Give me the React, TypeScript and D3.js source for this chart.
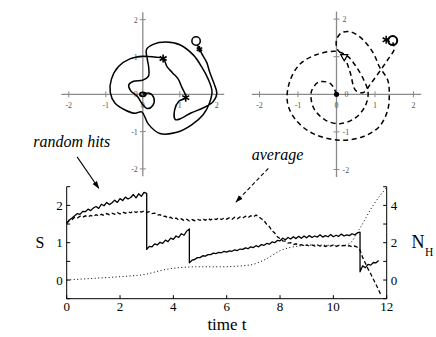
import * as d3 from "d3";

// ---- bottom panel: S(t) for one run of random hits (segments split at the jumps)
const hitsA = [1.52, 1.61, 1.66, 1.72, 1.78, 1.76, 1.84, 1.83, 1.9, 1.86, 1.93, 1.97, 1.92, 2.03, 1.99, 2.08, 2.02, 2.07, 2.14, 2.08, 2.18, 2.13, 2.22, 2.17, 2.21, 2.29, 2.2, 2.31, 2.24, 2.35, 2.32]; // t 0..3
const hitsB = [0.82, 0.9, 0.89, 0.97, 0.94, 1.01, 0.98, 1.07, 1.03, 1.12, 1.09, 1.18, 1.14, 1.24, 1.2, 1.31, 1.37]; // t 3..4.6
const hitsC = [0.46, 0.53, 0.55, 0.6, 0.6, 0.65, 0.64, 0.68, 0.68, 0.72, 0.71, 0.74, 0.73, 0.77, 0.75, 0.78, 0.77, 0.81, 0.79, 0.83, 0.82, 0.86, 0.84, 0.89, 0.87, 0.92, 0.89, 0.95, 0.93, 0.98, 0.96, 1.02, 1.0, 1.06, 1.05, 1.12, 1.08, 1.14, 1.1, 1.16, 1.11, 1.17, 1.12, 1.18, 1.13, 1.19, 1.14, 1.18, 1.15, 1.21, 1.15, 1.19, 1.16, 1.22, 1.16, 1.2, 1.17, 1.23, 1.18, 1.21, 1.19, 1.24, 1.21, 1.26, 1.28]; // t 4.6..11
const hitsD = [0.22, 0.38, 0.33, 0.42, 0.4, 0.47, 0.46, 0.52]; // t 11..11.7
const hitsStarts = [0, 3.0, 4.6, 11.0];

// average S(t), t 0..11.8 step 0.1
const averageS = [1.52, 1.6, 1.62, 1.68, 1.66, 1.71, 1.68, 1.72, 1.69, 1.73, 1.7, 1.75, 1.72, 1.76, 1.73, 1.78, 1.75, 1.79, 1.76, 1.81, 1.77, 1.82, 1.79, 1.83, 1.8, 1.85, 1.81, 1.85, 1.82, 1.85, 1.81, 1.83, 1.78, 1.79, 1.74, 1.75, 1.7, 1.71, 1.66, 1.68, 1.63, 1.66, 1.61, 1.64, 1.59, 1.63, 1.58, 1.62, 1.59, 1.63, 1.6, 1.64, 1.6, 1.65, 1.61, 1.65, 1.62, 1.66, 1.62, 1.66, 1.63, 1.67, 1.63, 1.68, 1.64, 1.69, 1.66, 1.71, 1.67, 1.72, 1.69, 1.74, 1.7, 1.64, 1.59, 1.49, 1.43, 1.32, 1.26, 1.16, 1.11, 1.05, 1.04, 0.99, 1.0, 0.95, 0.97, 0.93, 0.95, 0.92, 0.94, 0.91, 0.94, 0.91, 0.94, 0.91, 0.93, 0.9, 0.93, 0.91, 0.94, 0.9, 0.93, 0.91, 0.93, 0.9, 0.92, 0.89, 0.91, 0.88, 0.8, 0.6, 0.45, 0.3, 0.17, 0.02, -0.12, -0.27, -0.43];

// number of hits N_H (right axis)
const hitCountT = [0, 1, 2, 3, 3.5, 4, 5, 5.75, 6.85, 7.4, 8.05, 8.7, 9.35, 10.3, 10.6, 11, 11.5, 12];
const hitCountN = [0, 0.09, 0.18, 0.32, 0.5, 0.63, 0.71, 0.71, 0.8, 1.07, 1.6, 1.82, 1.88, 1.84, 1.95, 2.79, 4.02, 4.97];

// ---- top panels: trajectories in the plane
const trajHits: [number, number][] = [
  [0, 0], [0.18, 0.03], [0.3, -0.1], [0.27, -0.3], [0.12, -0.38], [-0.02, -0.25], [-0.15, -0.05],
  [-0.33, 0.1], [-0.38, 0.25], [-0.25, 0.35], [0, 0.38], [0.15, 0.48], [0.16, 0.72], [0.12, 0.95], [0.1, 1.2],
  [0.28, 1.34], [0.62, 1.4], [1.0, 1.33], [1.37, 1.05], [1.6, 0.72], [1.77, 0.4], [1.87, 0.08], [1.8, -0.24],
  [1.63, -0.55], [1.32, -0.82], [0.92, -1.02], [0.46, -1.05], [0.15, -0.8], [-0.03, -0.47],
  [-0.21, -0.51], [-0.48, -0.42], [-0.75, -0.24], [-0.88, 0.05], [-0.85, 0.4], [-0.65, 0.75], [-0.35, 0.95],
  [0, 1.02], [0.3, 1.0], [0.55, 0.96],
  [0.65, 0.75], [0.8, 0.58], [0.95, 0.42], [1.05, 0.2], [1.16, -0.09],
  [0.98, -0.18], [0.86, -0.42], [0.88, -0.68], [1.05, -0.64], [1.3, -0.5], [1.6, -0.38], [1.9, -0.2],
  [2.0, 0.03], [1.92, 0.3], [1.8, 0.62], [1.73, 0.85], [1.6, 1.08], [1.53, 1.21], [1.46, 1.36],
];
const hitsStars: [number, number][] = [[0.55, 0.96], [1.16, -0.09], [1.53, 1.21]];
const hitsEnd: [number, number] = [1.44, 1.43];

const trajAverage: [number, number][] = [
  [0, 0], [-0.15, 0.28], [-0.45, 0.33], [-0.65, 0.08], [-0.6, -0.35], [-0.3, -0.68], [0.1, -0.78],
  [0.5, -0.62], [0.75, -0.3], [0.82, 0.05], [0.7, 0.4], [0.5, 0.75], [0.3, 1.0], [0.0, 1.14],
  [-0.53, 1.05], [-0.97, 0.78], [-1.23, 0.29], [-1.27, -0.24], [-1.05, -0.69], [-0.62, -1.04],
  [0.07, -1.22], [0.68, -1.13], [1.11, -0.86], [1.33, -0.42], [1.37, 0.0], [1.33, 0.38], [1.11, 0.74],
  [0.98, 1.05], [0.81, 1.31], [0.59, 1.54], [0.33, 1.67], [0.12, 1.63], [0.0, 1.45], [0.02, 1.2],
  [0.2, 1.0], [0.35, 0.6], [0.5, 0.1], [0.7, 0.05], [0.9, 0.3], [1.15, 0.65], [1.35, 0.95],
  [1.5, 1.2], [1.46, 1.38],
];
const avgTurn: [number, number] = [0.2, 1.0];
const avgStar: [number, number] = [1.29, 1.45];
const avgEnd: [number, number] = [1.46, 1.43];

const planeTicks = [-2, -1, 1, 2];
const timeTicks = [0, 2, 4, 6, 8, 10, 12];
const sTicks = [0, 1, 2];
const nTicks = [0, 2, 4];

const serif = "'Liberation Serif', 'DejaVu Serif', serif";

function buildHits(): [number, number][] {
  const segs = [hitsA, hitsB, hitsC, hitsD];
  const out: [number, number][] = [];
  segs.forEach((vals, k) => {
    vals.forEach((v, i) => out.push([+(hitsStarts[k] + i * 0.1).toFixed(2), v]));
  });
  return out;
}

function Plane({ cx, cy, ux, uy, right, traj, dashed, children }: any) {
  const x = d3.scaleLinear().domain([0, 1]).range([cx, cx + ux]);
  const y = d3.scaleLinear().domain([0, 1]).range([cy, cy - uy]);
  const line = d3.line<[number, number]>()
    .x(d => x(d[0])).y(d => y(d[1]))
    .curve(d3.curveCatmullRom.alpha(0.5));
  const axis = "#8a8a8a";
  const lab = "#555";
  return (
    <g>
      <line x1={x(-2.2)} x2={x(2.2)} y1={y(0)} y2={y(0)} stroke={axis} strokeWidth={1.3} />
      <line x1={x(0)} x2={x(0)} y1={y(2.2)} y2={y(-2.2)} stroke={axis} strokeWidth={1.3} />
      {planeTicks.map(v => (
        <g key={"t" + v}>
          <line x1={x(v)} x2={x(v)} y1={y(0) - 3} y2={y(0) + 3} stroke={axis} />
          <line x1={x(0) - 3} x2={x(0) + 3} y1={y(v)} y2={y(v)} stroke={axis} />
          <text x={x(v)} y={y(0) + 13.5} fontSize={8} fill={lab} textAnchor="middle" fontFamily={serif}>{v}</text>
          <text x={right ? x(0) + 6 : x(0) - 5} y={y(v) + 3} fontSize={8} fill={lab}
            textAnchor={right ? "start" : "end"} fontFamily={serif}>{v}</text>
        </g>
      ))}
      <text x={x(0)} y={y(0) + 13.5} fontSize={8} fill={lab} textAnchor="middle" fontFamily={serif}>0</text>
      <text x={right ? x(0) + 8 : x(0) - 5} y={y(0) + 3} fontSize={8} fill={lab}
        textAnchor={right ? "start" : "end"} fontFamily={serif}>0</text>
      <path d={line(traj) || ""} fill="none" stroke="#000" strokeWidth={1.5}
        strokeDasharray={dashed ? "5,3.5" : undefined} strokeLinejoin="round" />
      {children(x, y)}
    </g>
  );
}

export default function App() {
  const W = 436, H = 337;
  const asterisk = (d3 as any).symbolAsterisk || d3.symbolCross;
  const star = d3.symbol().type(asterisk).size(45)() || "";
  const smallStar = d3.symbol().type(asterisk).size(28)() || "";
  const tri = d3.symbol().type(d3.symbolTriangle).size(22)() || "";

  // bottom chart scales
  const x = d3.scaleLinear().domain([0, 12]).range([66.7, 386.7]);
  const yS = d3.scaleLinear().domain([-0.5, 2.5]).range([298.7, 186.7]);
  const yN = d3.scaleLinear().domain([-1, 5]).range([298.7, 186.7]);

  const hits = buildHits();
  const avg: [number, number][] = averageS.map((v, i) => [+(i * 0.1).toFixed(2), v]);
  const count: [number, number][] = hitCountT.map((t, i) => [t, hitCountN[i]]);

  const lineS = d3.line<[number, number]>().x(d => x(d[0])).y(d => yS(d[1]));
  const lineN = d3.line<[number, number]>().x(d => x(d[0])).y(d => yN(d[1])).curve(d3.curveMonotoneX);

  const sMinor = d3.range(-0.5, 2.51, 0.5);
  const nMinor = d3.range(-1, 5.01, 1);

  return (
    <svg width={W} height={H} style={{ position: "absolute", left: 0, top: 0, background: "#fff" }}>
      <defs>
        <marker id="ah" viewBox="0 0 10 10" refX="9" refY="5" markerWidth="7" markerHeight="7" orient="auto">
          <path d="M0,1.5 L10,5 L0,8.5 Z" fill="#000" />
        </marker>
      </defs>

      {/* top left: random hits */}
      <Plane cx={142.8} cy={94.3} ux={37} uy={37.3} right={false} traj={trajHits} dashed={false}>
        {(px: any, py: any) => (
          <g>
            <ellipse cx={px(0)} cy={py(0)} rx={3} ry={2} fill="none" stroke="#000" strokeWidth={1.8} />
            {hitsStars.map((p, i) => (
              <path key={i} d={i < 2 ? star : smallStar} transform={`translate(${px(p[0])},${py(p[1])})`}
                fill="none" stroke="#000" strokeWidth={1.6} />
            ))}
            <circle cx={px(hitsEnd[0])} cy={py(hitsEnd[1])} r={4.2} fill="#fff" stroke="#000" strokeWidth={1.5} />
          </g>
        )}
      </Plane>

      {/* top right: average */}
      <Plane cx={336.5} cy={94.3} ux={38.5} uy={37.6} right={true} traj={trajAverage} dashed={true}>
        {(px: any, py: any) => (
          <g>
            <circle cx={px(0)} cy={py(0)} r={2.6} fill="#000" />
            <path d={tri} transform={`translate(${px(avgTurn[0])},${py(avgTurn[1])}) rotate(180)`}
              fill="#fff" stroke="#000" strokeWidth={1.2} />
            <path d={star} transform={`translate(${px(avgStar[0])},${py(avgStar[1])})`}
              fill="none" stroke="#000" strokeWidth={1.5} />
            <circle cx={px(avgEnd[0])} cy={py(avgEnd[1])} r={4.5} fill="none" stroke="#000" strokeWidth={2} />
          </g>
        )}
      </Plane>

      {/* annotations */}
      <text x={x(-1.25)} y={yS(3.57)} fontSize={16} fontStyle="italic" fontFamily={serif}>random hits</text>
      <line x1={x(0.39)} y1={yS(3.3)} x2={x(1.2)} y2={yS(2.46)} stroke="#000" strokeWidth={1.1} markerEnd="url(#ah)" />
      <text x={x(6.94)} y={yS(3.21)} fontSize={16} fontStyle="italic" fontFamily={serif}>average</text>
      <line x1={x(7.56)} y1={yS(2.99)} x2={x(6.35)} y2={yS(2.09)} stroke="#000" strokeWidth={1.1}
        strokeDasharray="4,2.5" markerEnd="url(#ah)" />

      {/* bottom chart axes */}
      <g stroke="#000" strokeWidth={1}>
        <line x1={x(0)} x2={x(0)} y1={yS(2.5)} y2={yS(-0.5)} />
        <line x1={x(12)} x2={x(12)} y1={yS(2.5)} y2={yS(-0.5)} />
        <line x1={x(0)} x2={x(12)} y1={yS(-0.5)} y2={yS(-0.5)} />
        {sMinor.map(v => <line key={"s" + v} x1={x(0)} x2={x(0) + 3.5} y1={yS(v)} y2={yS(v)} />)}
        {nMinor.map(v => <line key={"n" + v} x1={x(12)} x2={x(12) - 3.5} y1={yN(v)} y2={yN(v)} />)}
        {timeTicks.map(v => <line key={"x" + v} x1={x(v)} x2={x(v)} y1={yS(-0.5)} y2={yS(-0.5) - 3.5} />)}
      </g>
      <g fontFamily={serif} fontSize={13} fill="#000">
        {timeTicks.map(v => <text key={v} x={x(v)} y={310.5} textAnchor="middle">{v}</text>)}
        {sTicks.map(v => <text key={v} x={x(0) - 4} y={yS(v) + 4.5} textAnchor="end">{v}</text>)}
        {nTicks.map(v => <text key={v} x={x(12) + 4} y={yN(v) + 4.5} textAnchor="start">{v}</text>)}
      </g>
      <text x={40} y={248} fontSize={16} textAnchor="middle" fontFamily={serif}>S</text>
      <text x={411.5} y={248.3} fontSize={18} fontFamily={serif}>N</text>
      <text x={425} y={256} fontSize={11.5} fontFamily={serif}>H</text>
      <text x={227} y={330} fontSize={17} textAnchor="middle" fontFamily={serif}>time t</text>

      {/* bottom chart lines */}
      <path d={lineN(count) || ""} fill="none" stroke="#000" strokeWidth={1} strokeDasharray="1,2.5" />
      <path d={lineS(avg) || ""} fill="none" stroke="#000" strokeWidth={1.3} strokeDasharray="4,2.5" />
      <path d={lineS(hits) || ""} fill="none" stroke="#000" strokeWidth={1.3} strokeLinejoin="round" />
    </svg>
  );
}
